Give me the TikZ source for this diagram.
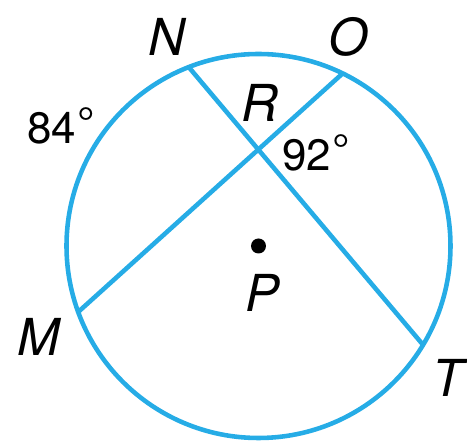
\documentclass[tikz,border=0pt]{standalone}
\usepackage{fontspec}
\setmainfont{TeX Gyre Heros}
\usetikzlibrary{calc}
\definecolor{CircleBlue}{RGB}{38,172,230}
\newcommand{\degmark}{\kern1pt\raisebox{0.12em}{°}}
\tikzset{
  rim/.style={
    draw=CircleBlue,
    line width=2.6pt
  },
  chord/.style={
    draw=CircleBlue,
    line width=2.6pt
  },
  letter/.style={
    font=\fontsize{29}{31}\selectfont\itshape,
    inner sep=0pt
  },
  measure/.style={
    font=\fontsize{25}{27}\selectfont,
    inner sep=0pt,
    anchor=west
  },
  centre/.style={
    circle,
    fill=black,
    inner sep=0pt,
    minimum size=0.30cm
  }
}
\begin{document}
\begin{tikzpicture}

\useasboundingbox (0,0) rectangle (9.34,8.92);

\coordinate (c) at (5.17,4.00);
\coordinate (n) at ($(c)+(111.3:3.84)$);
\coordinate (o) at ($(c)+(64:3.84)$);
\coordinate (m) at ($(c)+(200.1:3.84)$);
\coordinate (t) at ($(c)+(-31:3.84)$);

\draw[rim] (c) circle (3.84);
\draw[chord] (n) -- (t);
\draw[chord] (o) -- (m);

\node[centre] (p) at (c) {};

\node[letter] (ln) at (3.34,8.18) {N};
\node[letter] (lo) at (6.96,8.18) {O};
\node[letter] (lr) at (5.20,6.86) {R};
\node[letter] (lp) at (5.24,3.06) {P};
\node[letter] (lm) at (0.78,2.18) {M};
\node[letter] (lt) at (8.96,1.36) {T};

\node[measure] (a84) at (0.54,6.40) {84\degmark};
\node[measure] (a92) at (5.64,5.86) {92\degmark};

\end{tikzpicture}
\end{document}
